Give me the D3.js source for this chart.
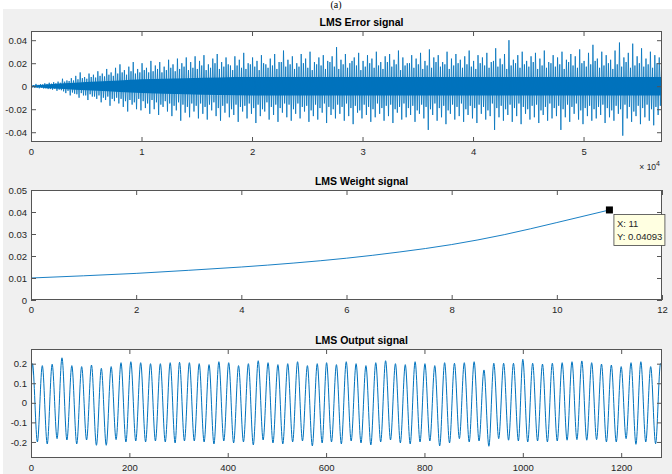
<!DOCTYPE html>
<html>
<head>
<meta charset="utf-8">
<script src="https://cdn.jsdelivr.net/npm/d3@7"></script>
<style>
  html, body { margin: 0; padding: 0; background: #fff; }
  svg { display: block; }
  text { font-family: "Liberation Sans", Arial, Helvetica, sans-serif; }
</style>
</head>
<body>
<div id="chart"></div>
<script>
// ---- LMS Error signal: per-bin extremes (400 samples per bin) ----
const errBin = 400;
const errHi = [
  0.0015, 0.002, 0.0018, 0.0025, 0.003, 0.0035, 0.004, 0.0065, 0.005, 0.007,
  0.009, 0.012, 0.008, 0.011, 0.010, 0.013, 0.011, 0.015, 0.012, 0.016,
  0.019, 0.014, 0.017, 0.021, 0.015, 0.020, 0.016, 0.022, 0.018, 0.021, 0.017,
  0.023, 0.019, 0.024, 0.020, 0.025, 0.021, 0.026,
  0.022, 0.027, 0.019, 0.024, 0.028, 0.021, 0.025, 0.018, 0.026, 0.023,
  0.029, 0.020, 0.025, 0.022, 0.027, 0.019, 0.024, 0.028, 0.021, 0.031,
  0.023, 0.026, 0.020, 0.028, 0.024, 0.030, 0.021, 0.025, 0.027, 0.022,
  0.026, 0.034, 0.023, 0.028, 0.020, 0.025, 0.029, 0.022, 0.027, 0.024,
  0.030, 0.021, 0.026, 0.028, 0.023, 0.031, 0.025, 0.020, 0.027, 0.024,
  0.029, 0.022, 0.032, 0.025, 0.027, 0.021, 0.030, 0.024, 0.028, 0.023,
  0.026, 0.031, 0.022, 0.027, 0.025, 0.029, 0.021, 0.033, 0.024, 0.028,
  0.040, 0.023, 0.027, 0.030, 0.022, 0.026, 0.029, 0.024, 0.031, 0.021,
  0.027, 0.025, 0.030, 0.023, 0.028, 0.026, 0.032, 0.022, 0.029, 0.036,
  0.024, 0.030, 0.027, 0.023, 0.031, 0.038, 0.025, 0.029, 0.037, 0.026,
  0.033, 0.024, 0.030, 0.027, 0.025
];
const errLo = [
  -0.0015, -0.0018, -0.002, -0.0025, -0.003, -0.004, -0.0035, -0.006, -0.008, -0.0065,
  -0.010, -0.008, -0.012, -0.009, -0.011, -0.014, -0.012, -0.017, -0.013, -0.015,
  -0.018, -0.022, -0.016, -0.020, -0.021, -0.019, -0.024, -0.020, -0.025, -0.018, -0.022,
  -0.026, -0.021, -0.030, -0.023, -0.027, -0.022, -0.028,
  -0.024, -0.029, -0.021, -0.026, -0.030, -0.023, -0.027, -0.025, -0.031, -0.022,
  -0.028, -0.024, -0.032, -0.026, -0.022, -0.029, -0.025, -0.031, -0.023, -0.027,
  -0.030, -0.024, -0.028, -0.022, -0.031, -0.026, -0.029, -0.023, -0.032, -0.025,
  -0.028, -0.024, -0.030, -0.026, -0.033, -0.023, -0.028, -0.025, -0.031, -0.027,
  -0.024, -0.030, -0.026, -0.032, -0.023, -0.029, -0.027, -0.025, -0.031, -0.024,
  -0.028, -0.038, -0.025, -0.030, -0.027, -0.033, -0.024, -0.029, -0.026, -0.031,
  -0.025, -0.028, -0.032, -0.024, -0.029, -0.026, -0.038, -0.027, -0.030, -0.025,
  -0.031, -0.026, -0.033, -0.024, -0.029, -0.027, -0.032, -0.025, -0.030, -0.028,
  -0.026, -0.038, -0.027, -0.031, -0.024, -0.029, -0.033, -0.026, -0.030, -0.028,
  -0.025, -0.032, -0.027, -0.030, -0.024, -0.043, -0.028, -0.031, -0.026, -0.033,
  -0.027, -0.030, -0.034, -0.025, -0.029
];
// medium-size swings between the big spikes, same bins
const errMidHi = [
  0.001, 0.0012, 0.0015, 0.002, 0.0022, 0.0025, 0.003, 0.004, 0.0045, 0.005,
  0.006, 0.007, 0.0065, 0.008, 0.0075, 0.009, 0.0085, 0.010, 0.009, 0.011,
  0.012, 0.010, 0.013, 0.011, 0.012, 0.014, 0.012, 0.013, 0.015, 0.012,
  0.014, 0.016, 0.013, 0.015, 0.017, 0.014, 0.016, 0.015,
  0.018, 0.014, 0.016, 0.020, 0.015, 0.017, 0.019, 0.014, 0.018, 0.016,
  0.015, 0.019, 0.017, 0.014, 0.020, 0.016, 0.018, 0.015, 0.021, 0.017,
  0.019, 0.015, 0.017, 0.020, 0.016, 0.014, 0.019, 0.018, 0.015, 0.021,
  0.017, 0.015, 0.019, 0.016, 0.022, 0.018, 0.014, 0.017, 0.020, 0.016,
  0.018, 0.015, 0.021, 0.017, 0.019, 0.014, 0.018, 0.020, 0.016, 0.019,
  0.015, 0.018, 0.016, 0.021, 0.017, 0.019, 0.015, 0.018, 0.020, 0.016,
  0.019, 0.017, 0.015, 0.020, 0.018, 0.016, 0.022, 0.017, 0.019, 0.015,
  0.018, 0.020, 0.016, 0.019, 0.017, 0.021, 0.015, 0.018, 0.016, 0.020,
  0.017, 0.019, 0.015, 0.021, 0.018, 0.016, 0.020, 0.017, 0.019, 0.022,
  0.016, 0.018, 0.020, 0.015, 0.019, 0.017, 0.021, 0.016, 0.018, 0.020,
  0.017, 0.019, 0.016, 0.020, 0.018
];
const errMidLo = [
  -0.001, -0.0015, -0.0012, -0.002, -0.0025, -0.0022, -0.003, -0.0045, -0.004, -0.0055,
  -0.007, -0.006, -0.008, -0.007, -0.009, -0.008, -0.010, -0.009, -0.011, -0.010,
  -0.011, -0.013, -0.012, -0.014, -0.011, -0.013, -0.015, -0.012, -0.014, -0.016,
  -0.013, -0.015, -0.017, -0.014, -0.016, -0.018, -0.015, -0.017,
  -0.015, -0.018, -0.016, -0.014, -0.019, -0.017, -0.015, -0.020, -0.016, -0.018,
  -0.017, -0.015, -0.019, -0.016, -0.020, -0.014, -0.018, -0.016, -0.019, -0.015,
  -0.016, -0.020, -0.015, -0.018, -0.017, -0.021, -0.016, -0.019, -0.015, -0.018,
  -0.020, -0.016, -0.018, -0.015, -0.019, -0.017, -0.021, -0.016, -0.018, -0.020,
  -0.015, -0.019, -0.017, -0.016, -0.020, -0.018, -0.015, -0.019, -0.017, -0.021,
  -0.016, -0.018, -0.020, -0.015, -0.019, -0.017, -0.021, -0.016, -0.018, -0.015,
  -0.020, -0.017, -0.019, -0.016, -0.018, -0.021, -0.015, -0.019, -0.017, -0.020,
  -0.016, -0.019, -0.015, -0.018, -0.020, -0.017, -0.016, -0.021, -0.018, -0.015,
  -0.019, -0.017, -0.020, -0.016, -0.018, -0.015, -0.021, -0.019, -0.017, -0.020,
  -0.018, -0.016, -0.019, -0.021, -0.017, -0.020, -0.016, -0.018, -0.022, -0.017,
  -0.019, -0.016, -0.020, -0.018, -0.017
];
// dense core band of the error signal
const coreX  = [0, 2000, 4000, 6000, 8000, 10000, 14000, 20000, 30000, 40000, 50000, 57100];
const coreHi = [0.0005, 0.002, 0.003, 0.004, 0.005, 0.006, 0.007, 0.008, 0.008, 0.008, 0.008, 0.008];
const coreLo = [-0.0005, -0.002, -0.003, -0.004, -0.005, -0.006, -0.007, -0.008, -0.008, -0.008, -0.008, -0.008];
const errXTicks = [0, 10000, 20000, 30000, 40000, 50000];
const errYTicks = [-0.04, -0.02, 0, 0.02, 0.04];

// ---- LMS Weight signal ----
const weightX = [0, 1, 2, 3, 4, 5, 6, 7, 8, 9, 10, 11];
const weightY = [0.0100, 0.0110, 0.0121, 0.0135, 0.0150, 0.0168, 0.0190, 0.0218, 0.0252, 0.0297, 0.0352, 0.04093];
const weightXTicks = [0, 2, 4, 6, 8, 10, 12];
const weightYTicks = [0, 0.01, 0.02, 0.03, 0.04, 0.05];

// ---- LMS Output signal: peaks and troughs ----
const peakX = [3, 23, 43, 63, 83, 103, 123, 143, 163, 183, 203, 223, 243, 263, 283,
  302, 322, 342, 362, 382, 402, 422, 442, 462, 482, 502, 522, 542, 562, 582,
  601, 621, 641, 661, 681, 701, 721, 741, 761, 781, 801, 821, 841, 861, 881, 901, 921, 941, 961, 981,
  1000, 1020, 1040, 1060, 1080, 1100, 1120, 1140, 1160, 1180, 1200, 1220, 1240, 1260, 1280];
const peakY = [0.20, 0.19, 0.197, 0.23, 0.19, 0.185, 0.193, 0.176, 0.185, 0.205, 0.21, 0.205, 0.20, 0.20, 0.205,
  0.207, 0.205, 0.20, 0.195, 0.21, 0.205, 0.19, 0.20, 0.215, 0.205, 0.195, 0.20, 0.21, 0.19, 0.20,
  0.205, 0.195, 0.21, 0.20, 0.19, 0.205, 0.215, 0.20, 0.195, 0.21, 0.20, 0.19, 0.205, 0.202, 0.205, 0.21, 0.168, 0.202, 0.202, 0.202,
  0.222, 0.202, 0.198, 0.202, 0.205, 0.21, 0.214, 0.205, 0.198, 0.193, 0.185, 0.205, 0.21, 0.185, 0.20];
const troughX = [13, 33, 53, 73, 93, 113, 133, 153, 173, 193, 213, 233, 253, 273, 293,
  312, 332, 352, 372, 392, 412, 432, 452, 472, 492, 512, 532, 552, 572, 592,
  611, 631, 651, 671, 691, 711, 731, 751, 771, 791, 811, 831, 851, 871, 891, 911, 931, 951, 971, 991,
  1010, 1030, 1050, 1070, 1090, 1110, 1130, 1150, 1170, 1190, 1210, 1230, 1250, 1270];
const troughY = [-0.20, -0.21, -0.183, -0.19, -0.21, -0.19, -0.217, -0.217, -0.188, -0.20, -0.195, -0.20, -0.195, -0.20, -0.205,
  -0.195, -0.195, -0.20, -0.21, -0.195, -0.205, -0.20, -0.215, -0.19, -0.205, -0.21, -0.20, -0.195, -0.22, -0.205,
  -0.20, -0.21, -0.195, -0.205, -0.215, -0.20, -0.19, -0.205, -0.21, -0.20, -0.195, -0.22, -0.205, -0.183, -0.20, -0.195, -0.222, -0.183, -0.191, -0.195,
  -0.20, -0.195, -0.20, -0.195, -0.191, -0.188, -0.191, -0.188, -0.20, -0.20, -0.183, -0.212, -0.20, -0.209];
const outStart = [0, 0.07];
const outEnd = [1283, 0.19];
const outXTicks = [0, 200, 400, 600, 800, 1000, 1200];
const outYTicks = [-0.2, -0.1, 0, 0.1, 0.2];

// data tip
const tipX = 11, tipY = 0.04093;

const W = 672, H = 474;
const blue = "#0072BD";
const axisColor = "#555";
const textColor = "#262626";

const svg = d3.select("#chart").append("svg")
    .attr("width", W).attr("height", H);

svg.append("rect").attr("width", W).attr("height", H).attr("fill", "#fff");
svg.append("rect").attr("x", 3).attr("y", 9).attr("width", W - 3).attr("height", H - 9).attr("fill", "#f0f0f0");

// (a) label at the very top
svg.append("text")
    .attr("x", 336).attr("y", 8)
    .attr("text-anchor", "middle")
    .style("font-family", "'Liberation Serif', 'Times New Roman', serif")
    .style("font-size", "10px")
    .style("fill", "#000")
    .text("(a)");

const fmt = d => String(+d.toFixed(4));

// build one axes: white box, clipped plot group, ticks on all four sides
function makeAxes(id, box, x, y, xTicks, yTicks, xFmt, title) {
    const g = svg.append("g");
    g.append("rect")
        .attr("x", box.l).attr("y", box.t)
        .attr("width", box.r - box.l).attr("height", box.b - box.t)
        .attr("fill", "#fff");

    g.append("clipPath").attr("id", id)
        .append("rect")
        .attr("x", box.l).attr("y", box.t)
        .attr("width", box.r - box.l).attr("height", box.b - box.t);

    const plot = g.append("g").attr("clip-path", `url(#${id})`);

    const axes = g.append("g");
    axes.append("g")
        .attr("transform", `translate(0,${box.b})`)
        .call(d3.axisBottom(x).tickValues(xTicks).tickSize(-5).tickPadding(6).tickFormat(xFmt));
    axes.append("g")
        .attr("transform", `translate(0,${box.t})`)
        .call(d3.axisTop(x).tickValues(xTicks).tickSize(-5).tickFormat(""));
    axes.append("g")
        .attr("transform", `translate(${box.l},0)`)
        .call(d3.axisLeft(y).tickValues(yTicks).tickSize(-5).tickPadding(4).tickFormat(fmt));
    axes.append("g")
        .attr("transform", `translate(${box.r},0)`)
        .call(d3.axisRight(y).tickValues(yTicks).tickSize(-5).tickFormat(""));

    axes.selectAll(".domain").remove();
    axes.selectAll(".tick line").attr("stroke", axisColor).attr("stroke-width", 1);
    axes.selectAll(".tick text")
        .style("font-size", "9.5px")
        .style("fill", textColor);

    g.append("rect")
        .attr("x", box.l + 0.5).attr("y", box.t + 0.5)
        .attr("width", box.r - box.l - 1).attr("height", box.b - box.t - 1)
        .attr("fill", "none")
        .attr("stroke", axisColor)
        .attr("stroke-width", 1);

    g.append("text")
        .attr("x", (box.l + box.r) / 2 + 15)
        .attr("y", box.t - 5)
        .attr("text-anchor", "middle")
        .style("font-size", "10.5px")
        .style("font-weight", "bold")
        .style("fill", "#000")
        .text(title);

    return plot;
}

// ---------- 1. LMS Error signal ----------
const box1 = { l: 31, r: 662, t: 31, b: 142 };
const x1 = d3.scaleLinear().domain([0, 57100]).range([box1.l, box1.r]);
const y1 = d3.scaleLinear().domain([-0.0485, 0.048]).range([box1.b, box1.t]);
const p1 = makeAxes("clip1", box1, x1, y1, errXTicks, errYTicks, d => fmt(d / 10000), "LMS Error signal");

const core = coreX.map((d, i) => ({ x: d, hi: coreHi[i], lo: coreLo[i] }));
p1.append("path")
    .datum(core)
    .attr("fill", blue)
    .attr("d", d3.area().x(d => x1(d.x)).y0(d => y1(d.lo)).y1(d => y1(d.hi)).curve(d3.curveMonotoneX));

// four swings per bin: big up, medium down, medium up, big down
const zig = [];
errHi.forEach((h, i) => {
    const s = i * errBin;
    zig.push([s + errBin * 0.125, h]);
    zig.push([s + errBin * 0.375, errMidLo[i]]);
    zig.push([s + errBin * 0.625, errMidHi[i]]);
    zig.push([s + errBin * 0.875, errLo[i]]);
});
p1.append("path")
    .datum(zig)
    .attr("fill", "none")
    .attr("stroke", blue)
    .attr("stroke-width", 0.8)
    .attr("d", d3.line().x(d => x1(d[0])).y(d => y1(d[1])));

// x 10^4 exponent label
const expo = svg.append("text")
    .attr("x", box1.r - 2).attr("y", box1.b + 28)
    .attr("text-anchor", "end")
    .style("font-size", "8.5px")
    .style("fill", textColor);
expo.append("tspan").text("\u00d7 10");
expo.append("tspan").attr("dy", -4).style("font-size", "7px").text("4");

// ---------- 2. LMS Weight signal ----------
const box2 = { l: 31, r: 662, t: 190, b: 300 };
const x2 = d3.scaleLinear().domain([0, 12]).range([box2.l, box2.r]);
const y2 = d3.scaleLinear().domain([0, 0.05]).range([box2.b, box2.t]);
const p2 = makeAxes("clip2", box2, x2, y2, weightXTicks, weightYTicks, fmt, "LMS Weight signal");

p2.append("path")
    .datum(weightX.map((d, i) => [d, weightY[i]]))
    .attr("fill", "none")
    .attr("stroke", blue)
    .attr("stroke-width", 0.9)
    .attr("d", d3.line().x(d => x2(d[0])).y(d => y2(d[1])).curve(d3.curveMonotoneX));

// data tip marker and box
const tx = x2(tipX), ty = y2(tipY);
svg.append("rect")
    .attr("x", tx - 3.5).attr("y", ty - 3.5)
    .attr("width", 7).attr("height", 7)
    .attr("fill", "#000");
const tip = svg.append("g").attr("transform", `translate(${tx + 4.5},${ty + 4.5})`);
tip.append("rect")
    .attr("width", 51).attr("height", 31)
    .attr("fill", "#ffffe1")
    .attr("stroke", "#444")
    .attr("stroke-width", 0.8);
tip.append("text").attr("x", 3).attr("y", 13)
    .style("font-size", "9.5px").style("fill", textColor)
    .text("X: " + tipX);
tip.append("text").attr("x", 3).attr("y", 26)
    .style("font-size", "9.5px").style("fill", textColor)
    .text("Y: " + tipY);

// ---------- 3. LMS Output signal ----------
const box3 = { l: 31, r: 662, t: 349, b: 458 };
const x3 = d3.scaleLinear().domain([0, 1283]).range([box3.l, box3.r]);
const y3 = d3.scaleLinear().domain([-0.282, 0.275]).range([box3.b, box3.t]);
const p3 = makeAxes("clip3", box3, x3, y3, outXTicks, outYTicks, fmt, "LMS Output signal");

const outPts = [outStart];
peakX.forEach((px, i) => {
    outPts.push([px, peakY[i]]);
    if (i < troughX.length) outPts.push([troughX[i], troughY[i]]);
});
outPts.push(outEnd);

p3.append("path")
    .datum(outPts)
    .attr("fill", "none")
    .attr("stroke", blue)
    .attr("stroke-width", 1)
    .attr("d", d3.line().x(d => x3(d[0])).y(d => y3(d[1])).curve(d3.curveMonotoneX));
</script>
</body>
</html>
